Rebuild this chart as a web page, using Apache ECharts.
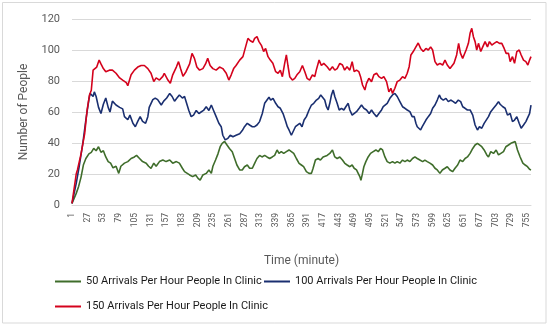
<!DOCTYPE html>
<html>
<head>
<meta charset="utf-8">
<script src="https://cdn.jsdelivr.net/npm/echarts@6/dist/echarts.min.js"></script>
<style>
html,body{margin:0;padding:0;background:#fff;}
#chart{width:550px;height:327px;}
</style>
</head>
<body>
<div id="chart"></div>
<script>
// Series names
var seriesNames = [
  '50 Arrivals Per Hour People In Clinic',
  '100 Arrivals Per Hour People In Clinic',
  '150 Arrivals Per Hour People In Clinic'
];
var yTicks = [0, 20, 40, 60, 80, 100, 120];
var xTickStep = 26; // labels 1, 27, 53, ... 755
var lastMinute = 762;

// 50 arrivals per hour (green): minutes and values
var greenMinutes = [1,8,12,16,20,24,29,33,37,41,45,49,53,57,61,65,69,74,78.5,82,88,93.5,99,104.5,108,113,118,124,128,132,136.6,140.5,146,151.6,157,163,168,174,179,184,187.6,190,196,201,206,210,213.5,218,223.5,228,232,234.6,239,243,246.7,250,254,258,262,266.7,270.6,274.4,279,283.3,287,291.6,295.5,300,303.8,307.7,312,316,320.4,324.3,328.7,333,337,341,344.2,348,352,356.4,360.8,364.7,368.6,373,377.5,381.3,385,389.6,394,398,400.7,404.6,409,412.9,417.3,420,424,428.4,432.8,436.7,440.6,445,449.4,453.3,457.2,461.6,465.5,468.8,472.7,475.5,478.2,480,482.1,484.9,488.2,492,496,500.4,504.8,508.7,512.5,515.9,519.8,523.6,528,532.4,536.3,540.2,544.6,549,553,556.8,561.2,565.6,569.5,573.4,577.8,582.3,586,590,594.4,598.9,602.8,606.6,611,615,619.4,623.2,627.7,632,636,640.4,644.3,648.8,652.7,656.6,661,665.4,669.3,673.2,676.5,680.4,684.3,688.7,691.5,695.3,699.8,704.2,708.1,712,716.4,720.3,724.7,728.6,731.9,735.8,739.6,744,748.5,752.4,756.2,759.6,762];
var greenValues = [1,7.5,12,18,26,30,33,34,36.5,35,37.6,34,35,31,28,27,24,25,20.4,25,27,28,30,31,32,30,28,27,25,23.7,27,25,28,29,28,29,27,28,27,23.7,21.5,20.4,19.4,18.3,19.4,17.2,16,19.4,20.4,22.6,20.4,25,29,33,37.6,39.8,41,38.7,36.5,34.4,30,25.8,22.6,22.6,24.7,25.8,23.7,23.7,26.9,30,32,31,32,31,30,31,32,35.5,33.3,34.4,33.3,34.4,35.5,34.4,33.3,30,26.9,25.8,24.7,21.5,20.4,20.4,23.7,29,30,29,31,31,32,33.3,35.5,31,30,31,29,26.9,25.8,24.7,25.8,23.7,22.6,20.4,18.3,16,19.4,24.7,28,31,33.3,34.4,35.5,34.4,36.5,35.5,31,28,27,28,27,28,27,29,28,29,28,30,31,30,29,28,29,28,27,25.8,23.7,22.6,20.4,22.6,23.7,24.7,22.6,21.5,23.7,25.8,29,28,30,31,33.3,36.5,38.7,39.8,40.9,37.6,35.5,32.3,31,34.4,33.3,35.5,32.3,33.3,34.4,37.6,38.7,39.8,38.7,40.9,35.5,31,27,25.8,24.7,23,22.6];

// 100 arrivals per hour (dark blue)
var blueMinutes = [1,8,13,19,24,29,31,36,38,41,45,49,53,57,61,64,68,71,74,80,85,88,93.5,97,102,106,110,114,118,123,126.7,129,135,139,143,149,153,158,163,167,171,175,179,184,187.6,190,194.7,198.6,202.5,207,211.3,215,219,223.5,228,232,235.7,240,244.5,248.4,251,255,259.5,263.4,267.8,273,279,283.3,287,291.6,295.5,300,303.8,307.7,312,316.5,320.4,324.3,327.6,330.4,334.3,338.7,342.6,346.4,350.9,355.3,358,360.8,364.7,367.5,371.4,374.7,378.6,382.4,385.8,389.6,394,398,401.8,406.2,410,413.4,416,420,422.9,425.6,428.4,431.2,434,436.7,440.6,444,447.8,451.7,455,458.9,461.6,465.5,468.8,472.7,477.1,481,484.9,489.3,493.7,497.6,501.5,506,509.8,514.2,517,519.8,523.6,528,532.4,536.3,540.2,544.6,549,553,556.8,561.2,565,568.4,571.2,573.4,576.7,579,581.7,584.5,587.8,591.7,595.6,598.9,602.8,606.6,610,612.7,616.6,621,624.9,628.8,633.2,637,641.5,645.4,648.8,652.7,656.6,661,665.4,669.3,673.2,676.5,680.4,684.3,687.6,691.5,695.3,699.8,704.2,708.1,710.8,715.3,719.1,723,727.5,731.3,734.7,738.5,742.4,745.7,749.6,753.5,756.8,759.6,762];
var blueValues = [1,14,25,40,55,68,72,70,73,70,63,59,65,69,63,60,67,68,64.5,63,62,57,55,58,52.7,50.5,54,57,54,52.7,57,63,68,69,68,64.5,67,69,72,70,67,69,71,69,70,67,61,57,58,61,59,60,61,63.4,61,64.5,61,57,52.7,50.5,45,42,43,45,44,45,46,48,50.5,52.7,51.6,50.5,50.5,51.6,53.8,59,65.6,67.7,69.5,67.7,68.8,65.6,63.4,62.4,59,53.8,50.5,48.4,45,46.2,50.5,49.5,52.7,50.5,54.8,57,61.3,64.5,65.6,67.7,68.8,71,70,67.7,63.4,61.3,65.6,71,74.2,70,65.6,61.3,62.4,61.3,63.4,65.6,61.3,58,57,60.2,62.4,64.5,62.4,61.3,59,61.3,59,57,59,61.3,63.4,62.4,65.6,68.8,71,72,70,66.7,63.4,62.4,61.3,60.2,57,57,52.7,50.5,51.6,48.4,50.5,50.5,54.8,57,59,62.4,64.5,67.7,71,68.8,67.7,68.8,66.7,67.7,66.7,65.6,67.7,66.7,63.4,62.4,61.3,61.3,58,51.6,48.4,50.5,49.5,52.7,53.8,57,60.2,62.4,64.5,66.7,65,63.4,62.4,58,59,53.8,54.8,57,52.7,49.5,51.6,53.8,54.8,59,64.5];

// 150 arrivals per hour (red)
var redMinutes = [1,8,10,16,22,26,30,33,36,38,42,46,49,53,57,63,68,74,80,85,91,93.5,99,104.5,110,115.6,121,126.7,132,136.6,140.5,146,151.6,154,160,164,168,174,177.6,181,185,190,196,200,204,208,212.5,218,222.4,226,230,234.6,240,245.6,251,256.7,261,265,269,273,279,284.4,288.8,292.7,296.6,301,303.8,307.7,311,315,318.7,322,326,329.8,334,338.7,342.6,346.4,349.8,353.6,356.4,359,362,366.4,370.3,374,378.6,383,387,390.7,395,399.6,403.5,406,410.7,414.5,418.4,424,428.4,432.8,436.7,440.6,445,449.4,453,457,461.6,465.5,468.8,472.7,476.6,479.4,482.7,486.6,489.3,493.2,497.6,501.5,506,509.8,514.2,518,522.5,526.4,529.7,532.4,536.3,540.2,544.6,549,553,556.8,560,562.9,566.8,571.2,575,579,583.4,587.8,591.7,595.6,598.9,602.8,606.6,611,615.5,619.4,623.2,627.7,630.4,634.3,638.7,642,645,648.7,651,654.4,658.2,661,663.8,666.5,669.3,672,674.9,678.7,682,685.9,689.8,693.1,697,700.9,705.3,709.7,713.6,717.5,720.8,724.7,727.5,731.3,734.7,738.5,742.4,745.7,749.6,753.5,756.8,759.6,762];
var redValues = [1,20,22.6,33,46,61,71,74,87,86,89,93.5,91,88,86,87,87,85,82,80.6,79,77,84,87,89,90,90,88,85,79.6,82,80.6,83,85,80.6,78.5,84,89,92.5,88,83,86,91,97.8,94.6,89,87,88,91,94.6,90,88,87,89,88,85,80.6,84,88,90,93.5,95.7,102,107.5,106,105,107.5,108.6,105.4,103,99,101,95.7,93.5,91.4,86,85,87,82.8,91.4,96.8,90,82.8,80.6,81.7,84,86,90,86,81.7,80.6,84,82.8,87,93.5,90,91.4,89.2,87,89.2,87,88,91.4,90.3,87,89.2,87,92.5,86,87,86,82.8,77.4,74.2,78.5,81.7,79.6,84,85,82.8,81.7,82.8,79.6,73,75.3,72,75.3,79.6,80.6,82.8,81.7,85,89.2,96.8,99,102,104.5,101,99,101,100,102,100,92.5,90.3,91.4,90.3,93.5,90.3,88,87,91.4,96.8,104.3,98,94.6,96.8,100,104.3,110.8,114,108.6,105.4,100,104.3,99,102,105.4,102,105.4,103.2,104.3,105.4,104.3,104.3,101,97.8,97.8,92.5,95.7,91.4,99,100,96.8,93.5,92.5,90.3,93.5,95.7];

var colors = ['#3f6d2b', '#1a2f70', '#d4021c'];
var FONT = 'Roboto, "Noto Sans", sans-serif';

function pairs(xs, ys) {
  var out = [];
  for (var i = 0; i < xs.length; i++) out.push([xs[i] - 1, ys[i]]);
  return out;
}
var seriesData = [pairs(greenMinutes, greenValues), pairs(blueMinutes, blueValues), pairs(redMinutes, redValues)];

var chart = echarts.init(document.getElementById('chart'), null, {renderer: 'canvas'});
var legendBase = {
  orient: 'horizontal', itemWidth: 26, itemHeight: 2, padding: 0, icon: 'rect',
  textStyle: {fontFamily: FONT, fontSize: 11, color: '#1a1a1a'}
};
chart.setOption({
  animation: false,
  backgroundColor: '#fff',
  color: colors,
  graphic: [{
    type: 'rect', silent: true,
    shape: {x: 2.5, y: 2.5, width: 543.5, height: 320.5},
    style: {fill: 'none', stroke: '#d9d9d9', lineWidth: 1}
  }],
  grid: {left: 72, right: 19, top: 19, bottom: 122, containLabel: false},
  legend: [
    Object.assign({data: [seriesNames[0]], left: 55, top: 276}, legendBase),
    Object.assign({data: [seriesNames[1]], left: 264, top: 276}, legendBase),
    Object.assign({data: [seriesNames[2]], left: 55, top: 301}, legendBase)
  ],
  xAxis: {
    type: 'value', min: 0, max: lastMinute - 1, interval: xTickStep,
    name: 'Time (minute)', nameLocation: 'middle', nameGap: 50,
    nameTextStyle: {fontFamily: FONT, fontSize: 12, color: '#595959'},
    axisLine: {show: true, lineStyle: {color: '#d9d9d9', width: 1}},
    axisTick: {show: false},
    splitLine: {show: false},
    axisLabel: {
      rotate: 90, fontFamily: FONT, fontSize: 8.5, color: '#595959', margin: 8,
      showMaxLabel: false,
      formatter: function (v) { return String(v + 1); }
    }
  },
  yAxis: {
    type: 'value', min: yTicks[0], max: yTicks[yTicks.length - 1], interval: 20,
    name: 'Number of People', nameLocation: 'middle', nameGap: 42,
    nameTextStyle: {fontFamily: FONT, fontSize: 12, color: '#595959'},
    axisLine: {show: false}, axisTick: {show: false},
    splitLine: {lineStyle: {color: '#d9d9d9', width: 1}},
    axisLabel: {fontFamily: FONT, fontSize: 11, color: '#595959', margin: 12}
  },
  series: seriesNames.map(function (n, i) {
    return {
      name: n, type: 'line', data: seriesData[i], showSymbol: false, symbol: 'none',
      lineStyle: {width: 1.6, color: colors[i]}, itemStyle: {color: colors[i]}
    };
  })
});
</script>
</body>
</html>
